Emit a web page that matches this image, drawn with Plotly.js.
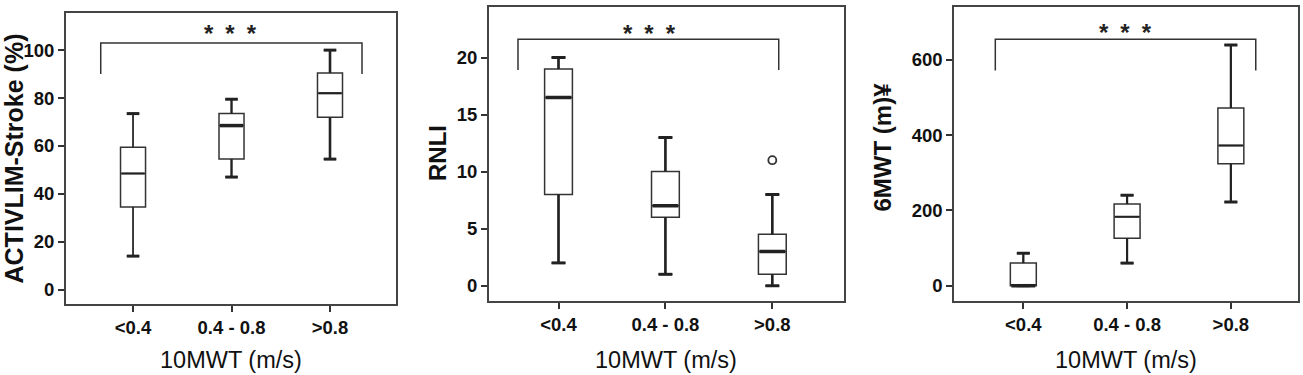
<!DOCTYPE html>
<html>
<head>
<meta charset="utf-8">
<script src="https://cdn.plot.ly/plotly-3.0.1.min.js"></script>
<style>html,body{margin:0;padding:0;background:#fff;}#chart{width:1303px;height:375px;}</style>
</head>
<body>
<div id="chart"></div>
<script>
// ---- data ----
const categories = ['<0.4', '0.4 - 0.8', '>0.8'];
const xTitle = '10MWT (m/s)';

const activTitle = 'ACTIVLIM-Stroke (%)';
const activLow  = [14, 47, 54.5];
const activQ1   = [34.5, 54.5, 72];
const activMed  = [48.5, 68.5, 82];
const activQ3   = [59.5, 73.5, 90.5];
const activHigh = [73.5, 79.5, 100];

const rnliTitle = 'RNLI';
const rnliLow  = [2, 1, 0];
const rnliQ1   = [8, 6, 1];
const rnliMed  = [16.5, 7, 3];
const rnliQ3   = [19, 10, 4.5];
const rnliHigh = [20, 13, 8];
const rnliOutlierGroup = [2];
const rnliOutlierValue = [11];

const mwtTitle = '6MWT (m)¥';
const mwtLow  = [0, 60, 222];
const mwtQ1   = [0, 126, 324];
const mwtMed  = [0, 183, 372];
const mwtQ3   = [60, 217, 472];
const mwtHigh = [86, 240, 639];

const signif = '*\u2002*\u2002*';

// ---- styling ----
const FONT = 'Liberation Sans, Arial, sans-serif';
const LINE = '#333';
const pos = categories.map((c, i) => i);

const traces = [];
function panel(xa, ya, low, q1, med, q3, high, bw, whiskW, medW) {
  traces.push({
    type: 'box', x: pos, q1: q1, median: med, q3: q3,
    lowerfence: low, upperfence: high,
    xaxis: xa, yaxis: ya, width: bw, whiskerwidth: 0.5,
    fillcolor: '#fff', line: {color: LINE, width: 1.5},
    boxpoints: false, hoverinfo: 'skip', showlegend: false
  });
  pos.forEach((p, i) => {
    const cw = bw * 0.5;
    traces.push({
      type: 'scatter', mode: 'lines', xaxis: xa, yaxis: ya,
      x: [p, p, null, p, p], y: [q3[i], high[i], null, q1[i], low[i]],
      line: {color: '#222', width: whiskW[i]}, hoverinfo: 'skip', showlegend: false
    });
    traces.push({
      type: 'scatter', mode: 'lines', xaxis: xa, yaxis: ya,
      x: [p - cw / 2, p + cw / 2, null, p - cw / 2, p + cw / 2],
      y: [high[i], high[i], null, low[i], low[i]],
      line: {color: '#222', width: 3}, hoverinfo: 'skip', showlegend: false
    });
    traces.push({
      type: 'scatter', mode: 'lines', xaxis: xa, yaxis: ya,
      x: [p - bw / 2 + 0.01, p + bw / 2 - 0.01], y: [med[i], med[i]],
      line: {color: '#222', width: medW[i]}, hoverinfo: 'skip', showlegend: false
    });
  });
}

panel('x', 'y', activLow, activQ1, activMed, activQ3, activHigh, 0.254, [1.2, 2.2, 2.6], [2, 3.5, 2.2]);
panel('x2', 'y2', rnliLow, rnliQ1, rnliMed, rnliQ3, rnliHigh, 0.26, [2.6, 2.6, 2.6], [3.5, 3.5, 3.5]);
panel('x3', 'y3', mwtLow, mwtQ1, mwtMed, mwtQ3, mwtHigh, 0.25, [2.2, 2.2, 2.2], [3.5, 2, 2]);

traces.push({
  type: 'scatter', mode: 'markers', xaxis: 'x2', yaxis: 'y2',
  x: rnliOutlierGroup, y: rnliOutlierValue,
  marker: {symbol: 'circle-open', size: 8, color: '#333', line: {width: 1.8}},
  hoverinfo: 'skip', showlegend: false
});

const TICKFONT = {family: FONT, size: 18.5, color: '#111', weight: 'bold'};
function xax(domain, range) {
  return {
    domain: domain, range: range, tickvals: pos, ticktext: categories,
    showline: true, mirror: true, linecolor: '#444', linewidth: 2,
    ticks: 'outside', ticklen: 6, tickwidth: 2, tickcolor: '#333',
    showgrid: false, zeroline: false, fixedrange: true, tickfont: TICKFONT
  };
}
function yax(domain, range, dtick, maxv) {
  const vals = [];
  for (let v = 0; v <= maxv; v += dtick) vals.push(v);
  return {
    domain: domain, range: range, tickvals: vals,
    showline: true, mirror: true, linecolor: '#444', linewidth: 2,
    ticks: 'outside', ticklen: 6, tickwidth: 2, tickcolor: '#333',
    showgrid: false, zeroline: false, fixedrange: true, tickfont: TICKFONT
  };
}

function bracket(xr, yr, x0, x1, yTop, yLeg) {
  return {
    type: 'path', xref: xr, yref: yr,
    path: `M ${x0} ${yLeg} L ${x0} ${yTop} L ${x1} ${yTop} L ${x1} ${yLeg}`,
    line: {color: '#333', width: 1.5}
  };
}

function starAnn(xr, yr, x, y) {
  return {xref: xr, yref: yr, x: x, y: y, text: signif, showarrow: false,
    font: {family: FONT, size: 24, color: '#222', weight: 'bold'}, xanchor: 'center', yanchor: 'middle'};
}
function xTitleAnn(xr) {
  return {xref: xr + ' domain', yref: 'paper', x: 0.5, y: 0.04, text: xTitle, showarrow: false,
    font: {family: FONT, size: 23.5, color: '#111'}, xanchor: 'center', yanchor: 'middle'};
}
function yTitleAnn(x, y, text, size) {
  return {xref: 'paper', yref: 'paper', x: x, y: y, text: text, showarrow: false, textangle: -90,
    font: {family: FONT, size: size, color: '#111', weight: 'bold'}, xanchor: 'center', yanchor: 'middle'};
}

const layout = {
  width: 1303, height: 375, margin: {l: 0, r: 0, t: 0, b: 0},
  paper_bgcolor: '#fff', plot_bgcolor: '#fff', showlegend: false,
  xaxis: xax([0.0507, 0.3039], [-0.68, 2.67]),
  yaxis: yax([0.1893, 0.9653], [-6, 115.5], 20, 100),
  xaxis2: Object.assign(xax([0.3753, 0.6477], [-0.65, 2.67]), {anchor: 'y2'}),
  yaxis2: Object.assign(yax([0.1973, 0.9805], [-1.34, 24.4], 5, 20), {anchor: 'x2'}),
  xaxis3: Object.assign(xax([0.7324, 0.9964], [-0.665, 2.65]), {anchor: 'y3'}),
  yaxis3: Object.assign(yax([0.1973, 0.9805], [-40.6, 739], 200, 600), {anchor: 'x3'}),
  shapes: [
    bracket('x', 'y', -0.328, 2.325, 103, 90),
    bracket('x2', 'y2', -0.379, 2.06, 21.6, 18.9),
    bracket('x3', 'y3', -0.27, 2.24, 654, 571)
  ],
  annotations: [
    starAnn('x', 'y', 0.985, 107.1),
    starAnn('x2', 'y2', 0.855, 22.13),
    starAnn('x3', 'y3', 0.986, 670.9),
    xTitleAnn('x'), xTitleAnn('x2'), xTitleAnn('x3'),
    yTitleAnn(13 / 1303, 1 - 158.5 / 375, activTitle, 25),
    yTitleAnn(438 / 1303, 1 - 153 / 375, rnliTitle, 24),
    yTitleAnn(882 / 1303, 1 - 147.5 / 375, mwtTitle, 24)
  ]
};

Plotly.newPlot('chart', traces, layout, {staticPlot: true, displayModeBar: false});
</script>
</body>
</html>
